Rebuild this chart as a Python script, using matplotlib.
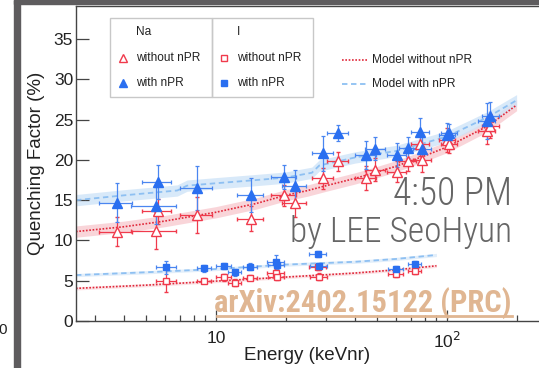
import numpy as np
import matplotlib
matplotlib.use("Agg")
import matplotlib.pyplot as plt
from matplotlib.lines import Line2D
from matplotlib.patches import Rectangle

plt.rcParams['font.family'] = ['Liberation Sans', 'DejaVu Sans']

# ---- Na recoils: energy (keVnr), quenching factor (%) with / without nPR ----
na_energy = [3.73, 5.51, 5.59, 8.28, 14.2, 19.8, 21.9, 29.1, 33.7, 44.6, 48.9,
             60.7, 67.7, 76.6, 78.0, 100.0, 102.0, 149.0, 154.0]
na_energy_err = [0.6, 1.2, 0.78, 1.3, 1.85, 2.5, 2.6, 3.0, 3.4, 4.5, 4.9,
                 5.5, 6.0, 7.0, 7.0, 8.0, 8.0, 13.0, 13.0]
na_qf_npr = [14.7, 14.3, 17.3, 16.5, 15.6, 17.9, 16.7, 20.8, 23.3, 20.6, 21.4,
             20.6, 21.5, 23.4, 21.3, 23.1, 23.3, 24.8, 25.4]
na_qf_npr_err = [2.4, 2.3, 2.1, 2.7, 2.1, 1.5, 2.1, 2.2, 1.0, 1.7, 1.4,
                 1.5, 1.3, 1.8, 1.5, 1.5, 1.2, 2.2, 1.8]
na_qf = [11.1, 11.2, 13.6, 13.2, 12.7, 15.6, 14.6, 17.7, 19.8, 17.8, 18.8,
         18.5, 19.8, 22.0, 20.0, 22.5, 22.0, 23.6, 24.2]
na_qf_err = [1.75, 2.3, 1.5, 2.25, 1.55, 1.3, 1.7, 1.35, 1.2, 1.5, 1.4,
             1.3, 1.2, 1.5, 1.5, 1.5, 1.2, 1.6, 1.5]

# ---- I recoils ----
i_energy = [6.1, 8.9, 10.8, 12.1, 14.1, 18.2, 18.3, 27.6, 27.8, 60.3, 72.4]
i_energy_err = [0.6, 0.6, 0.8, 0.8, 1.0, 1.5, 1.5, 2.3, 2.3, 4.5, 4.5]
i_qf_npr = [6.66, 6.54, 6.83, 6.04, 6.74, 7.36, 6.95, 8.3, 6.83, 6.45, 7.03]
i_qf_npr_err = [0.8, 0.4, 0.4, 0.4, 0.4, 0.8, 0.5, 0.4, 0.4, 0.4, 0.4]
i_qf = [5.0, 5.0, 5.42, 4.76, 5.38, 5.92, 5.5, 6.7, 5.5, 5.8, 6.2]
i_qf_err = [1.4, 0.3, 0.4, 0.4, 0.3, 0.5, 0.4, 0.4, 0.4, 0.4, 0.4]

# ---- model curves ----
model_na_energy = [2.48, 4, 6, 10, 15, 20, 25, 30, 40, 50, 60, 80, 100, 150, 200]
model_na_qf = [11.1, 11.7, 12.4, 13.5, 14.6, 15.6, 16.2, 16.8, 17.7, 18.5,
               19.2, 20.5, 21.6, 24.2, 26.8]
model_na_npr_energy = [2.48, 4, 6.8, 7.5, 10, 15, 20, 26, 28, 40, 60, 80,
                       100, 150, 200]
model_na_npr_qf = [15.0, 15.6, 16.2, 16.8, 17.1, 17.5, 17.8, 18.4, 19.3,
                   20.3, 21.1, 22.1, 22.9, 25.3, 27.4]
model_i_energy = [2.48, 5, 10, 20, 40, 60, 90]
model_i_qf = [4.05, 4.45, 4.95, 5.45, 5.95, 6.35, 6.85]
model_i_npr_qf = [5.7, 6.05, 6.45, 7.0, 7.35, 7.7, 8.2]

x_ticks = [10, 100]
x_tick_labels = ["10", "10$^{2}$"]
y_ticks = [0, 5, 10, 15, 20, 25, 30, 35]

RED = '#f03a4c'
BLUE = '#2a6ff0'
RED_BAND = '#f6b9c1'
BLUE_BAND = '#cfe4f8'
TEXT = '#222222'

W, H = 539, 368
fig = plt.figure(figsize=(W / 100, H / 100), dpi=100)


def fxy(x, y):
    return x / W, 1 - y / H


# screen frame
fig.patches.append(Rectangle(fxy(14, 368), 6 / W, 1, transform=fig.transFigure,
                             color='#5e5c5e', zorder=0))
fig.patches.append(Rectangle(fxy(14, 4), 1, 4 / H, transform=fig.transFigure,
                             color='#5e5c5e', zorder=0))
fig.text(*fxy(-2, 330), "0", fontsize=11, color=TEXT, ha='left', va='center')

ax = fig.add_axes([76 / W, (H - 321) / H, (W - 76) / W, (321 - 6) / H])
ax.set_xscale('log')
ax.set_xlim(2.48, 250)
ax.set_ylim(0, 39.1)

for s in ('left', 'bottom', 'top'):
    ax.spines[s].set_color('#444444')
    ax.spines[s].set_linewidth(1.0)
ax.spines['right'].set_visible(False)

ax.set_yticks(y_ticks)
ax.set_xticks(x_ticks)
ax.set_xticklabels(x_tick_labels)
ax.tick_params(axis='y', direction='in', length=9.5, width=0.9, color='#444444',
               labelsize=12.5, labelcolor=TEXT, pad=2)
ax.tick_params(axis='x', which='major', direction='in', length=8, width=0.9,
               color='#444444', labelsize=12.5, labelcolor=TEXT, pad=7)
ax.tick_params(axis='x', which='minor', direction='in', length=4, width=0.9,
               color='#444444')
ax.tick_params(top=False, right=False, which='both')

ax.set_xlabel("Energy (keVnr)", fontsize=13.5, color=TEXT, labelpad=-3)
ax.set_ylabel("Quenching Factor (%)", fontsize=13.5, color=TEXT, labelpad=6)

# model bands and lines
band = 0.7
ax.fill_between(model_na_energy, np.array(model_na_qf) - band,
                np.array(model_na_qf) + band, color=RED_BAND, alpha=0.6, lw=0, zorder=1)
ax.fill_between(model_na_npr_energy, np.array(model_na_npr_qf) - band,
                np.array(model_na_npr_qf) + band, color=BLUE_BAND, alpha=0.8, lw=0, zorder=1)
ax.fill_between(model_i_energy, np.array(model_i_qf) - 0.2,
                np.array(model_i_qf) + 0.2, color=RED_BAND, alpha=0.4, lw=0, zorder=1)
ax.fill_between(model_i_energy, np.array(model_i_npr_qf) - 0.2,
                np.array(model_i_npr_qf) + 0.2, color=BLUE_BAND, alpha=0.6, lw=0, zorder=1)

ax.plot(model_na_energy, model_na_qf, ls=(0, (1, 1)), color='#e0283a', lw=1.2, zorder=2)
ax.plot(model_na_npr_energy, model_na_npr_qf, ls=(0, (3, 2)), color='#8ec0f2', lw=1.3, zorder=2)
ax.plot(model_i_energy, model_i_qf, ls=(0, (1, 1)), color='#e0283a', lw=1.2, zorder=2)
ax.plot(model_i_energy, model_i_npr_qf, ls=(0, (3, 2)), color='#8ec0f2', lw=1.3, zorder=2)

eb = dict(ls='none', elinewidth=0.9, capsize=1.5, capthick=0.9, zorder=3)
ax.errorbar(na_energy, na_qf, yerr=na_qf_err, xerr=na_energy_err, marker='^',
            ms=6.5, mfc='white', mec=RED, mew=1.0, ecolor=RED, **eb)
ax.errorbar(na_energy, na_qf_npr, yerr=na_qf_npr_err, xerr=na_energy_err, marker='^',
            ms=6.5, mfc=BLUE, mec=BLUE, ecolor='#4a86f0', **eb)
ax.errorbar(i_energy, i_qf, yerr=i_qf_err, xerr=i_energy_err, marker='s',
            ms=5, mfc='white', mec=RED, mew=1.0, ecolor=RED, **eb)
ax.errorbar(i_energy, i_qf_npr, yerr=i_qf_npr_err, xerr=i_energy_err, marker='s',
            ms=5, mfc=BLUE, mec=BLUE, ecolor='#4a86f0', **eb)

# legend: two boxed columns (Na, I) plus model lines
for x0, x1 in ((110, 212), (212, 313)):
    fig.patches.append(Rectangle(fxy(x0, 97), (x1 - x0) / W, 79 / H,
                                 transform=fig.transFigure, fill=False,
                                 ec='#c8c8c8', lw=1.0, zorder=5))
leg_fs = 8.6
for x_mark, x_text, title, mk, ms in ((123, 136, "Na", '^', 6), (224, 237, "I", 's', 4.6)):
    fig.text(*fxy(x_text, 32), title, fontsize=leg_fs, color=TEXT, va='center')
    fig.add_artist(Line2D([x_mark / W], [1 - 58 / H], marker=mk, ms=ms, mfc='white',
                          mec=RED, mew=1.0, ls='none', transform=fig.transFigure))
    fig.text(*fxy(x_text, 58), "without nPR", fontsize=leg_fs, color=TEXT, va='center')
    fig.add_artist(Line2D([x_mark / W], [1 - 83 / H], marker=mk, ms=ms, mfc=BLUE,
                          mec=BLUE, ls='none', transform=fig.transFigure))
    fig.text(*fxy(x_text, 83), "with nPR", fontsize=leg_fs, color=TEXT, va='center')

fig.add_artist(Line2D([342 / W, 367 / W], [1 - 60 / H] * 2, ls=(0, (1, 1)),
                      color='#e0283a', lw=1.2, transform=fig.transFigure))
fig.text(*fxy(372, 60), "Model without nPR", fontsize=leg_fs, color=TEXT, va='center')
fig.add_artist(Line2D([342 / W, 367 / W], [1 - 84 / H] * 2, ls=(0, (3, 2)),
                      color='#8ec0f2', lw=1.3, transform=fig.transFigure))
fig.text(*fxy(372, 84), "Model with nPR", fontsize=leg_fs, color=TEXT, va='center')

# overlay captions
narrow = ['Roboto Condensed', 'Liberation Sans Narrow', 'DejaVu Sans']
fig.text(*fxy(512, 205), "4:50 PM", family=narrow, fontsize=27, fontweight='light',
         color='#666666', ha='right', va='baseline', zorder=10)
fig.text(*fxy(512, 242), "by LEE SeoHyun", family=narrow, fontsize=25.5,
         fontweight='light', color='#666666', ha='right', va='baseline', zorder=10)
fig.text(*fxy(512, 312), "arXiv:2402.15122 (PRC)", family=narrow, fontsize=22,
         fontweight='bold', color='#e0b692', ha='right', va='baseline', zorder=10)
fig.add_artist(Line2D([217 / W, 512 / W], [1 - 316 / H] * 2, color='#e0b692', lw=2,
                      transform=fig.transFigure, zorder=10))

fig.savefig("out.png", dpi=100)
